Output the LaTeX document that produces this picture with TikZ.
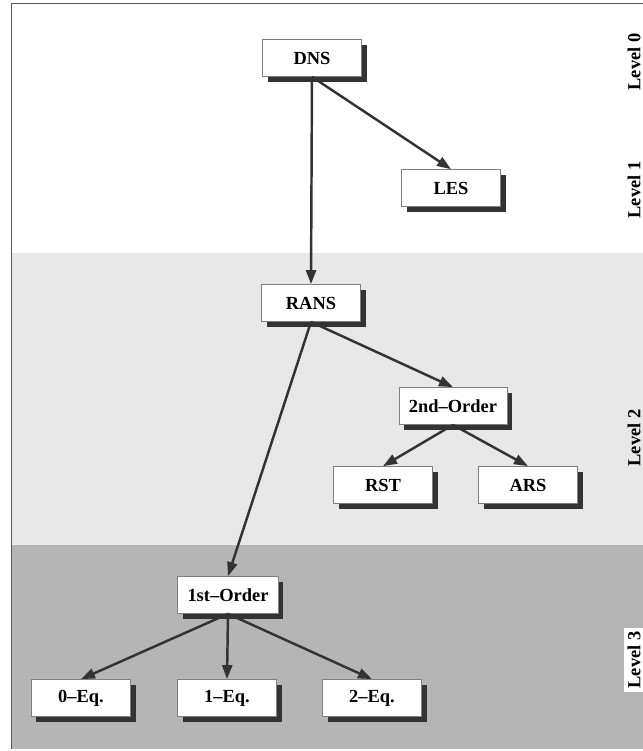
\documentclass[tikz,border=0pt]{standalone}
\usepackage{fontspec}
\setmainfont{Liberation Serif}
\usetikzlibrary{arrows.meta}
\usetikzlibrary{shadows}
\definecolor{bandlight}{HTML}{E8E8E8}
\definecolor{banddark}{HTML}{B5B5B5}
\definecolor{inkgray}{HTML}{333333}

\tikzset{
  model/.style={draw=gray, fill=white, minimum width=19.8mm, minimum height=7.4mm,
    inner xsep=2mm, font=\bfseries\fontsize{10.5}{12}\selectfont,
    drop shadow={shadow xshift=1mm, shadow yshift=-1mm, fill=inkgray, opacity=1}},
  link/.style={inkgray, line width=1.4pt, -{Triangle[length=2.8mm, width=2mm]}},
  levellabel/.style={rotate=90, font=\bfseries\fontsize{10.5}{12}\selectfont, inner sep=0.7mm}
}

\begin{document}
\begin{tikzpicture}[x=0.2mm, y=-0.2mm]
        \useasboundingbox (0,0) rectangle (643,751);
        % bands of the levels
        \fill [white] (11,3) rectangle (643,253);
        \fill [bandlight] (11,253) rectangle (643,545);
        \fill [banddark] (11,545) rectangle (643,749);
        \draw [gray!70!black] (643,3) -- (11,3) -- (11,749);
        % models
        \node [model] (dns) at (312,58) {DNS};
        \node [model] (les) at (451,188) {LES};
        \node [model] (rans) at (311,303) {RANS};
        \node [model] (second) at (453,406) {2nd--Order};
        \node [model] (rst) at (383,485) {RST};
        \node [model] (ars) at (528,485) {ARS};
        \node [model] (first) at (228,595) {1st--Order};
        \node [model] (zeroeq) at (81,698) {0--Eq.};
        \node [model] (oneeq) at (227,698) {1--Eq.};
        \node [model] (twoeq) at (372,698) {2--Eq.};
        % links
        \draw [link] (dns.south) -- (les.north);
        \draw [link] (dns.south) -- (rans.north);
        \draw [link] (rans.south) -- (second.north);
        \draw [link] (rans.south) -- (first.north);
        \draw [link] (second.south) -- (rst.north);
        \draw [link] (second.south) -- (ars.north);
        \draw [link] (first.south) -- (zeroeq.north);
        \draw [link] (first.south) -- (oneeq.north);
        \draw [link] (first.south) -- (twoeq.north);
        % level labels
        \node [levellabel] (lvl0) at (634,62) {Level 0};
        \node [levellabel] (lvl1) at (634,190) {Level 1};
        \node [levellabel] (lvl2) at (634,438) {Level 2};
        \node [levellabel, fill=white] (lvl3) at (634,660) {Level 3};
    \end{tikzpicture}
\end{document}
